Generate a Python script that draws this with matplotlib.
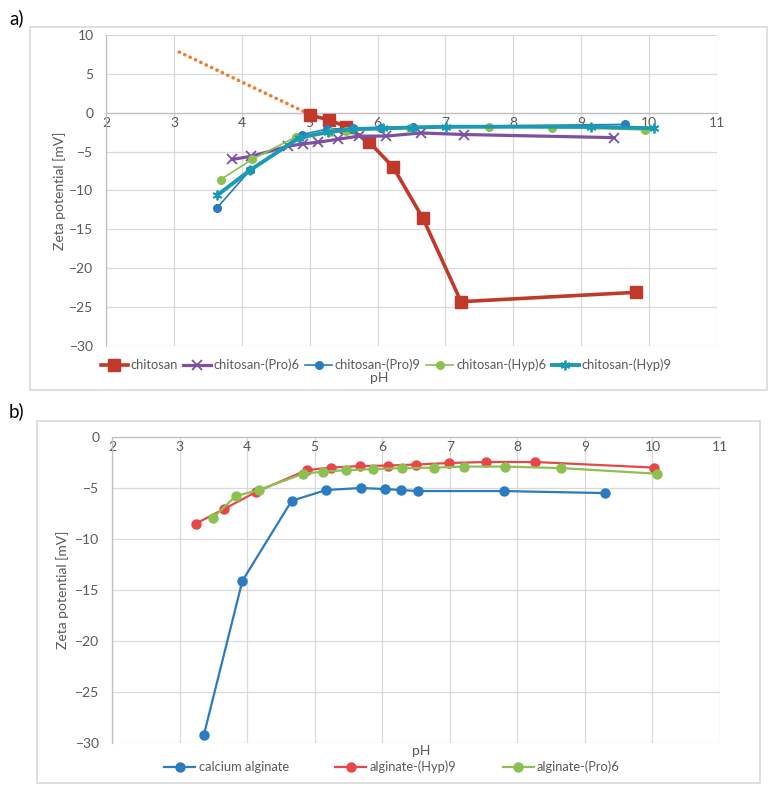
import matplotlib
matplotlib.use('Agg')
import matplotlib.pyplot as plt
from matplotlib.patches import Rectangle

plt.rcParams['font.family'] = ['Lato', 'DejaVu Sans']

# ---------------- Panel a data ----------------
chitosan_x = [5.0, 5.28, 5.54, 5.87, 6.23, 6.67, 7.23, 9.8]
chitosan_y = [-0.3, -0.9, -1.8, -3.7, -7.0, -13.6, -24.3, -23.1]

trend_x = [3.08, 4.95]
trend_y = [7.8, 0.0]

pro6_x = [3.86, 4.14, 4.68, 4.9, 5.12, 5.42, 5.73, 6.13, 6.64, 7.28, 9.49]
pro6_y = [-6.0, -5.6, -4.3, -4.0, -3.8, -3.4, -3.0, -3.0, -2.6, -2.8, -3.2]

pro9_x = [3.64, 4.12, 4.88, 5.26, 5.64, 6.05, 6.52, 9.65]
pro9_y = [-12.2, -7.4, -2.8, -2.1, -2.0, -1.9, -1.8, -1.5]

hyp6_x = [3.69, 4.15, 4.8, 5.3, 5.54, 6.48, 7.64, 8.57, 9.94]
hyp6_y = [-8.6, -6.0, -3.1, -2.5, -2.3, -2.0, -1.8, -1.9, -2.2]

hyp9_x = [3.64, 4.12, 4.85, 5.27, 5.64, 6.08, 6.5, 7.01, 9.14, 10.07]
hyp9_y = [-10.6, -7.4, -3.2, -2.5, -2.1, -2.0, -1.9, -1.8, -1.8, -2.0]

xticks = [2, 3, 4, 5, 6, 7, 8, 9, 10, 11]
yticks_a = [10, 5, 0, -5, -10, -15, -20, -25, -30]
yticks_b = [0, -5, -10, -15, -20, -25, -30]

# ---------------- Panel b data ----------------
calg_x = [3.36, 3.93, 4.66, 5.17, 5.68, 6.04, 6.28, 6.53, 7.81, 9.3]
calg_y = [-29.2, -14.1, -6.25, -5.2, -5.0, -5.1, -5.2, -5.3, -5.3, -5.5]

ahyp9_x = [3.24, 3.66, 4.13, 4.88, 5.24, 5.67, 6.08, 6.5, 6.99, 7.54, 8.26, 10.02]
ahyp9_y = [-8.5, -7.05, -5.4, -3.25, -3.0, -2.85, -2.8, -2.7, -2.55, -2.45, -2.45, -3.0]

apro6_x = [3.5, 3.83, 4.17, 4.83, 5.13, 5.46, 5.87, 6.3, 6.77, 7.21, 7.82, 8.65, 10.07]
apro6_y = [-7.9, -5.8, -5.2, -3.6, -3.4, -3.25, -3.15, -3.05, -3.0, -2.9, -2.9, -3.05, -3.6]

W, H = 776, 793
fig = plt.figure(figsize=(W / 100, H / 100), dpi=100)

TXT = '#595959'
GRID = '#d9d9d9'
FS = 10
LFS = 9.3


def px_rect(x0, y0, x1, y1):
    return [x0 / W, 1 - y1 / H, (x1 - x0) / W, (y1 - y0) / H]


# frames
for (x0, y0, x1, y1) in [(30, 27, 767, 390), (37, 421, 760, 783)]:
    r = px_rect(x0, y0, x1, y1)
    fig.patches.append(Rectangle((r[0], r[1]), r[2], r[3], transform=fig.transFigure,
                                 fill=False, edgecolor=GRID, lw=1.2))

fig.text(17 / W, 1 - 18 / H, 'a)', fontsize=13.5, ha='center', va='center', color='black')
fig.text(16 / W, 1 - 411 / H, 'b)', fontsize=13.5, ha='center', va='center', color='black')


def style(ax, ylim, yticks):
    ax.set_xlim(2, 11)
    ax.set_ylim(*ylim)
    ax.set_xticks(xticks)
    ax.set_yticks(yticks)
    ax.spines['top'].set_visible(False)
    ax.spines['right'].set_visible(False)
    ax.spines['bottom'].set_position(('data', 0))
    for s in ('left', 'bottom'):
        ax.spines[s].set_color('#bfbfbf')
        ax.spines[s].set_linewidth(0.9)
    ax.grid(True, color=GRID, lw=0.9)
    ax.set_axisbelow(True)
    ax.tick_params(axis='both', length=0, colors=TXT, labelsize=FS)
    ax.tick_params(axis='x', pad=3)
    ax.tick_params(axis='y', pad=9)
    ax.set_ylabel('Zeta potential [mV]', color=TXT, fontsize=FS)


# ---------------- Panel a ----------------
axa = fig.add_axes(px_rect(106, 35, 717, 346))
style(axa, (-30, 10), yticks_a)
axa.yaxis.set_label_coords(-0.066, 0.5)

axa.plot(trend_x, trend_y, color='#ED7D31', lw=2.6, ls=(0, (0.05, 1.6)),
         dash_capstyle='round', zorder=2)
l1, = axa.plot(chitosan_x, chitosan_y, color='#C0392B', lw=2.6, marker='s', ms=8.5,
               label='chitosan', zorder=3)
l2, = axa.plot(pro6_x, pro6_y, color='#7B52A0', lw=2.3, marker='x', ms=6.5, mew=1.3,
               label='chitosan-(Pro)6', zorder=3)
l3, = axa.plot(pro9_x, pro9_y, color='#2A7BC0', lw=1.2, marker='o', ms=5.5,
               label='chitosan-(Pro)9', zorder=3)
l4, = axa.plot(hyp6_x, hyp6_y, color='#8CC152', lw=1.2, marker='o', ms=5.5,
               label='chitosan-(Hyp)6', zorder=3)
l5, = axa.plot(hyp9_x, hyp9_y, color='#1B9AB3', lw=2.8, marker=(6, 2, 0), ms=7, mew=1.3,
               label='chitosan-(Hyp)9', zorder=3)

axa.legend(handles=[l1, l2, l3, l4, l5], loc='center',
           bbox_to_anchor=(386 / W, 1 - 365 / H), bbox_transform=fig.transFigure,
           ncol=5, frameon=False, fontsize=LFS, handlelength=2.1, handletextpad=0.2,
           columnspacing=0.45, labelcolor=TXT, borderaxespad=0, borderpad=0)
fig.text(379 / W, 1 - 378 / H, 'pH', fontsize=FS, color=TXT, ha='center', va='center')

# ---------------- Panel b ----------------
axb = fig.add_axes(px_rect(112, 437, 720, 743))
style(axb, (-30, 0), yticks_b)
axb.yaxis.set_label_coords(-0.071, 0.5)

m1, = axb.plot(calg_x, calg_y, color='#2A7BC0', lw=1.6, marker='o', ms=6.5,
               label='calcium alginate', zorder=3)
m2, = axb.plot(ahyp9_x, ahyp9_y, color='#E8474A', lw=1.6, marker='o', ms=6.5,
               label='alginate-(Hyp)9', zorder=3)
m3, = axb.plot(apro6_x, apro6_y, color='#8CC152', lw=1.6, marker='o', ms=6.5,
               label='alginate-(Pro)6', zorder=3)

axb.legend(handles=[m1, m2, m3], loc='center',
           bbox_to_anchor=(392 / W, 1 - 767 / H), bbox_transform=fig.transFigure,
           ncol=3, frameon=False, fontsize=LFS, handlelength=2.4, handletextpad=0.25,
           columnspacing=3.6, labelcolor=TXT, borderaxespad=0, borderpad=0)
fig.text(421 / W, 1 - 751 / H, 'pH', fontsize=FS, color=TXT, ha='center', va='center')

fig.savefig('out.png', dpi=100)
